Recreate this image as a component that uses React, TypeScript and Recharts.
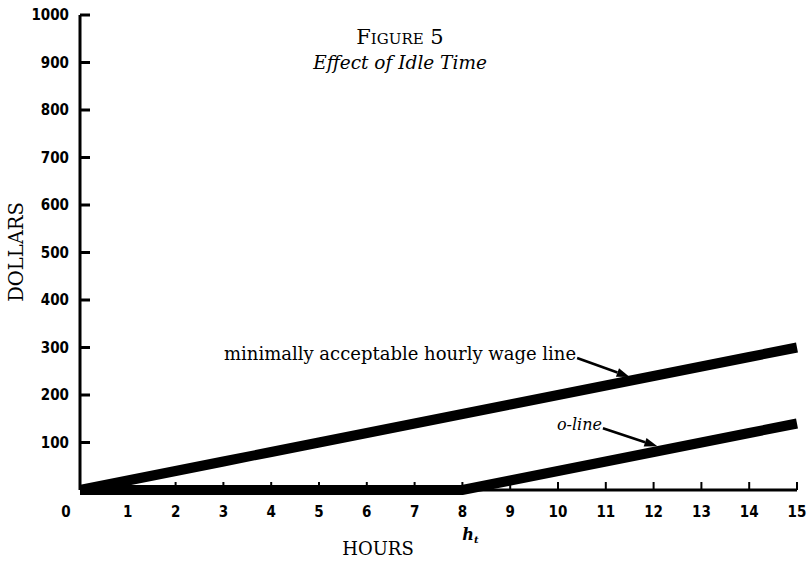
import React from 'react';
import { LineChart, Line, XAxis, YAxis, ReferenceLine } from 'recharts';

// hours on the x axis
const hours = [0, 1, 2, 3, 4, 5, 6, 7, 8, 9, 10, 11, 12, 13, 14, 15];
// dollars: minimally acceptable hourly wage line
const wageLine = [0, 20, 40, 60, 80, 100, 120, 140, 160, 180, 200, 220, 240, 260, 280, 300];
// dollars: o-line (flat until h_t, then rising)
const oLine = [0, 0, 0, 0, 0, 0, 0, 0, 0, 20, 40, 60, 80, 100, 120, 140];

const xTicks = [0, 1, 2, 3, 4, 5, 6, 7, 8, 9, 10, 11, 12, 13, 14, 15];
const yTicks = [100, 200, 300, 400, 500, 600, 700, 800, 900, 1000];

// annotation arrows: [from, to] in data units
const wageArrow = [{ x: 10.4, y: 278 }, { x: 11.5, y: 238 }];
const oArrow = [{ x: 10.94, y: 130 }, { x: 12.08, y: 92 }];

const data = hours.map((h, i) => ({ h, wage: wageLine[i], o: oLine[i] }));

const TICK_FONT = '"DejaVu Sans Condensed", "DejaVu Sans", sans-serif';
const SERIF = '"DejaVu Serif", "Liberation Serif", serif';

const X_MARGIN = 22;
const Y_MARGIN = 11;

function XTick(props: any) {
  const { x, y, payload } = props;
  const axisY = y - X_MARGIN;
  const v = payload.value;
  return (
    <g>
      {v !== 0 && <line x1={x} x2={x} y1={axisY} y2={axisY - 8} stroke="#000" strokeWidth={2} />}
      <text
        x={v === 0 ? x - 14 : x}
        y={y}
        dy="0.36em"
        textAnchor="middle"
        fontFamily={TICK_FONT}
        fontWeight={700}
        fontSize={15}
        fill="#000"
      >
        {v}
      </text>
      {v === 8 && (
        <text x={x + 8} y={y + 28} textAnchor="middle" fontFamily={SERIF} fontStyle="italic" fontWeight={700} fontSize={16} fill="#000">
          h<tspan fontSize={10} dy={3}>t</tspan>
        </text>
      )}
    </g>
  );
}

function YTick(props: any) {
  const { x, y, payload } = props;
  const axisX = x + Y_MARGIN;
  return (
    <g>
      <line x1={axisX} x2={axisX + 10} y1={y} y2={y} stroke="#000" strokeWidth={3} />
      <text
        x={x}
        y={y}
        dy="0.36em"
        textAnchor="end"
        fontFamily={TICK_FONT}
        fontWeight={700}
        fontSize={15}
        fill="#000"
      >
        {payload.value}
      </text>
    </g>
  );
}

function arrowShape(label: string, italic: boolean, size: number) {
  return (p: any) => {
    const { x1, y1, x2, y2 } = p;
    const dx = x2 - x1;
    const dy = y2 - y1;
    const len = Math.sqrt(dx * dx + dy * dy);
    const ux = dx / len;
    const uy = dy / len;
    const bx = x2 - ux * 13;
    const by = y2 - uy * 13;
    const head = `${x2},${y2} ${bx - uy * 4.5},${by + ux * 4.5} ${bx + uy * 4.5},${by - ux * 4.5}`;
    return (
      <g>
        <line x1={x1} y1={y1} x2={bx} y2={by} stroke="#000" strokeWidth={2.5} />
        <polygon points={head} fill="#000" />
        <text
          x={x1 - 1}
          y={y1 + 2}
          textAnchor="end"
          fontFamily={SERIF}
          fontStyle={italic ? 'italic' : 'normal'}
          fontSize={size}
          fill="#000"
        >
          {label}
        </text>
      </g>
    );
  };
}

export default function App() {
  return (
    <div style={{ position: 'absolute', left: 0, top: 0, width: 809, height: 561, background: '#fff' }}>
      <LineChart width={809} height={561} data={data} margin={{ top: 15, right: 12, bottom: 70, left: 79 }}>
        <XAxis
          dataKey="h"
          type="number"
          domain={[0, 15]}
          ticks={xTicks}
          height={1}
          tickSize={0}
          tickMargin={X_MARGIN}
          tickLine={false}
          tick={<XTick />}
          axisLine={{ stroke: '#000', strokeWidth: 3 }}
          interval={0}
        />
        <YAxis
          type="number"
          domain={[0, 1000]}
          ticks={yTicks}
          width={1}
          tickSize={0}
          tickMargin={Y_MARGIN}
          tickLine={false}
          tick={<YTick />}
          axisLine={{ stroke: '#000', strokeWidth: 3 }}
          interval={0}
        />
        <Line
          dataKey="wage"
          type="linear"
          stroke="#000"
          strokeWidth={10}
          dot={false}
          isAnimationActive={false}
        />
        <Line
          dataKey="o"
          type="linear"
          stroke="#000"
          strokeWidth={10}
          dot={false}
          isAnimationActive={false}
        />
        <ReferenceLine
          segment={wageArrow}
          ifOverflow="visible"
          shape={arrowShape('minimally acceptable hourly wage line', false, 18)}
        />
        <ReferenceLine segment={oArrow} ifOverflow="visible" shape={arrowShape('o-line', true, 16)} />
      </LineChart>
      <svg width={809} height={561} style={{ position: 'absolute', left: 0, top: 0, pointerEvents: 'none' }}>
        <text x={400} y={44} textAnchor="middle" fontFamily={SERIF} fontSize={21} style={{ fontVariant: 'small-caps' }}>
          Figure 5
        </text>
        <text x={400} y={69} textAnchor="middle" fontFamily={SERIF} fontStyle="italic" fontSize={18.5}>
          Effect of Idle Time
        </text>
        <text x={378} y={555} textAnchor="middle" fontFamily={SERIF} fontSize={18}>
          HOURS
        </text>
        <text x={23} y={252} textAnchor="middle" fontFamily={SERIF} fontSize={19.5} transform="rotate(-90 23 252)">
          DOLLARS
        </text>
      </svg>
    </div>
  );
}
